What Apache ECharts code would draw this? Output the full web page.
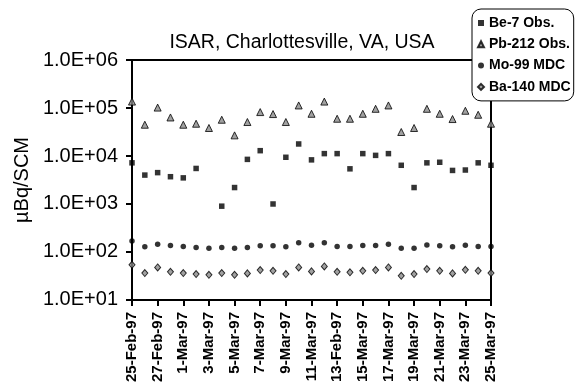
<!DOCTYPE html>
<html><head><meta charset="utf-8">
<script src="https://cdn.jsdelivr.net/npm/echarts@6/dist/echarts.min.js"></script>
<style>html,body{margin:0;padding:0;background:#fff}#c{width:581px;height:385px}</style>
</head><body><div id="c"></div>
<script>
const titleText = 'ISAR, Charlottesville, VA, USA';
const yName = 'µBq/SCM';
const categories = ['25-Feb-97','26-Feb-97','27-Feb-97','28-Feb-97','1-Mar-97','2-Mar-97','3-Mar-97','4-Mar-97','5-Mar-97','6-Mar-97','7-Mar-97','8-Mar-97','9-Mar-97','10-Mar-97','11-Mar-97','12-Mar-97','13-Feb-97','14-Mar-97','15-Mar-97','16-Mar-97','17-Mar-97','18-Mar-97','19-Mar-97','20-Mar-97','21-Mar-97','22-Mar-97','23-Mar-97','24-Mar-97','25-Mar-97'];
const seriesNames = ['Be-7 Obs.','Pb-212 Obs.','Mo-99 MDC','Ba-140 MDC'];
const be7 = [7200,4000,4500,3700,3500,5500,null,900,2200,8500,12900,1000,9400,17800,8300,11200,11200,5400,11200,10300,11200,6400,2200,7200,7400,5000,5100,7200,6400];
const pb212 = [136000,44800,102000,63500,44800,47000,38300,56900,26900,51000,82200,74700,51000,113000,75800,136000,59700,59700,75800,96200,113000,31600,38300,96200,75800,58800,87500,72300,47000];
const mo99 = [170,128,145,136,130,124,120,124,120,124,134,134,128,155,138,155,130,130,136,136,145,120,120,140,134,128,138,130,130];
const ba140 = [54,36.3,47.7,38.6,36.3,34.6,33.5,36.3,33.5,35.8,41.9,40.5,34.6,47.7,39.4,50,38.6,37.6,40.5,41.9,47.7,31.9,34.6,44,40.5,35.8,42.5,40.5,36.3];
const yTickLabels = {10:'1.0E+01',100:'1.0E+02',1000:'1.0E+03',10000:'1.0E+04',100000:'1.0E+05',1000000:'1.0E+06'};

const FF = '"Liberation Sans", Arial, sans-serif';
const chart = echarts.init(document.getElementById('c'), null, {renderer:'canvas'});
chart.setOption({
  animation:false,
  backgroundColor:'#fff',
  title:{text:titleText, left:297, top:28, textAlign:'center',
    textStyle:{fontFamily:FF, fontSize:19.5, fontWeight:'normal', color:'#000'}},
  legend:{
    orient:'vertical', left:472, top:9,
    backgroundColor:'#fff', borderColor:'#000', borderWidth:1, borderRadius:9,
    padding:[6,3,6,5], itemGap:5.3, itemWidth:6, itemHeight:6,
    textStyle:{fontFamily:FF, fontSize:14, fontWeight:'bold', color:'#000', lineHeight:16},
    data:seriesNames
  },
  grid:{left:132, right:90, top:60, bottom:84, show:true, borderColor:'#000', borderWidth:2},
  xAxis:{
    type:'category', data:categories, boundaryGap:false,
    axisLine:{lineStyle:{color:'#000', width:2}},
    axisTick:{interval:1, length:6, lineStyle:{color:'#000', width:2}},
    axisLabel:{interval:1, rotate:90, margin:12, fontFamily:FF, fontSize:15, fontWeight:'bold', color:'#000'},
    splitLine:{show:false}
  },
  yAxis:{
    type:'log', logBase:10, min:10, max:1000000,
    name:yName, nameLocation:'middle', nameRotate:90, nameGap:95,
    nameTextStyle:{fontFamily:FF, fontSize:20, color:'#000'},
    axisLine:{show:true, lineStyle:{color:'#000', width:2}},
    axisTick:{show:true, length:6, lineStyle:{color:'#000', width:2}},
    axisLabel:{margin:14, fontFamily:FF, fontSize:20, color:'#000',
      formatter:v=>yTickLabels[Math.round(v)] || ''},
    splitLine:{show:false}, minorTick:{show:false}
  },
  series:[
    {name:seriesNames[0], type:'scatter', data:be7, symbol:'rect', symbolSize:5.5,
      itemStyle:{color:'#000'}},
    {name:seriesNames[1], type:'scatter', data:pb212, symbol:'triangle', symbolSize:[7,7],
      itemStyle:{color:'#8a8a8a', borderColor:'#000', borderWidth:1}},
    {name:seriesNames[2], type:'scatter', data:mo99, symbol:'circle', symbolSize:5.5,
      itemStyle:{color:'#000'}},
    {name:seriesNames[3], type:'scatter', data:ba140, symbol:'diamond', symbolSize:[6,7],
      itemStyle:{color:'#8a8a8a', borderColor:'#000', borderWidth:1}}
  ]
});
</script></body></html>
